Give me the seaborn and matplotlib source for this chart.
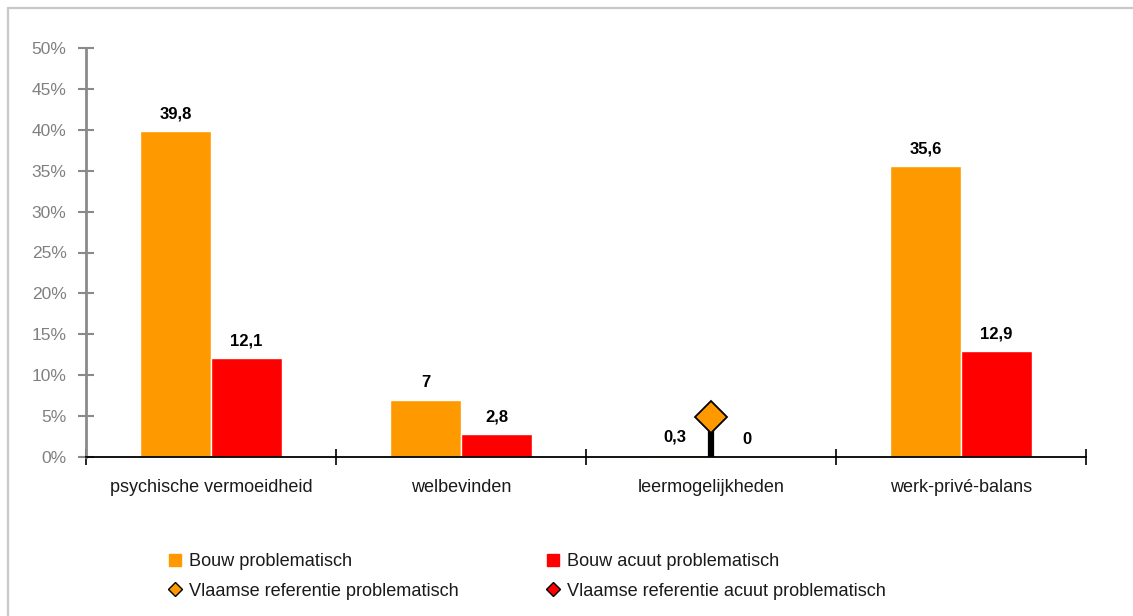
import numpy as np
import pandas as pd
import matplotlib
matplotlib.use("Agg")
import matplotlib.pyplot as plt
import seaborn as sns
from matplotlib.lines import Line2D

# ---------------- data ----------------
categories = ["psychische vermoeidheid", "welbevinden", "leermogelijkheden", "werk-privé-balans"]
bouw_problematisch = [39.8, 7.0, 0.3, 35.6]
bouw_acuut = [12.1, 2.8, 0.0, 12.9]
ref_problematisch = [np.nan, np.nan, 4.9, np.nan]
ref_acuut = [np.nan, np.nan, np.nan, np.nan]
series_names = ["Bouw problematisch", "Bouw acuut problematisch"]
ref_names = ["Vlaamse referentie problematisch", "Vlaamse referentie acuut problematisch"]
y_ticks = [0, 5, 10, 15, 20, 25, 30, 35, 40, 45, 50]

ORANGE = "#FF9900"
RED = "#FF0000"

sns.set_style("white")
plt.rcParams["font.family"] = ["Liberation Sans", "DejaVu Sans"]

W, H = 1133, 616
fig = plt.figure(figsize=(W / 100, H / 100), dpi=100)
ax = fig.add_axes([86 / W, 1 - 457 / H, 1000 / W, 409 / H])

df = pd.DataFrame({
    "categorie": categories * 2,
    "waarde": bouw_problematisch + bouw_acuut,
    "reeks": [series_names[0]] * len(categories) + [series_names[1]] * len(categories),
})

sns.barplot(data=df, x="categorie", y="waarde", hue="reeks", order=categories,
            hue_order=series_names, palette=[ORANGE, RED], width=0.57, gap=0,
            errorbar=None, legend=False, saturation=1, ax=ax, zorder=2)

def fmt(v):
    return f"{v:g}".replace(".", ",")

for cont, vals in zip(ax.containers, [bouw_problematisch, bouw_acuut]):
    ax.bar_label(cont, labels=[fmt(v) for v in vals], padding=7,
                 fontsize=12, fontweight="bold", color="black")

# reference markers with drop lines
xpos = np.arange(len(categories))
ref_p = np.array(ref_problematisch, dtype=float)
ref_a = np.array(ref_acuut, dtype=float)
mask = ~np.isnan(ref_p)
ax.vlines(xpos[mask], 0, ref_p[mask], colors="black", linewidth=4.5, zorder=3)
ax.plot(xpos[mask], ref_p[mask], linestyle="none", marker="D", markersize=16.5,
        markerfacecolor=ORANGE, markeredgecolor="black", markeredgewidth=1.3, zorder=4)
mask_a = ~np.isnan(ref_a)
if mask_a.any():
    ax.plot(xpos[mask_a], ref_a[mask_a], linestyle="none", marker="D", markersize=16.5,
            markerfacecolor=RED, markeredgecolor="black", markeredgewidth=1.3, zorder=4)

# axes styling
ax.set_xlim(-0.5, len(categories) - 0.5)
ax.set_ylim(0, 50)
ax.set_xlabel("")
ax.set_ylabel("")
ax.set_yticks(y_ticks)
ax.set_yticklabels([f"{t}%" for t in y_ticks])
ax.tick_params(axis="y", direction="inout", length=12, width=1.5, color="#8a8a8a",
               labelcolor="#808080", labelsize=12.5, pad=8, left=True)

ax.set_xticks(np.arange(len(categories) + 1) - 0.5)
ax.set_xticklabels([])
ax.tick_params(axis="x", which="major", direction="inout", length=12, width=1.2,
               color="black", bottom=True)
ax.set_xticks(xpos, minor=True)
ax.set_xticklabels(categories, minor=True)
ax.tick_params(axis="x", which="minor", length=0, pad=16, labelsize=13, labelcolor="#1a1a1a")

for s in ["top", "right"]:
    ax.spines[s].set_visible(False)
ax.spines["left"].set_color("#8a8a8a")
ax.spines["left"].set_linewidth(2)
ax.spines["bottom"].set_color("black")
ax.spines["bottom"].set_linewidth(1.3)
ax.set_facecolor("white")

# legend
handles = [
    Line2D([], [], linestyle="none", marker="s", markersize=8, markerfacecolor=ORANGE,
           markeredgecolor=ORANGE),
    Line2D([], [], linestyle="none", marker="D", markersize=6.8, markerfacecolor=ORANGE,
           markeredgecolor="black", markeredgewidth=1.0),
    Line2D([], [], linestyle="none", marker="s", markersize=8, markerfacecolor=RED,
           markeredgecolor=RED),
    Line2D([], [], linestyle="none", marker="D", markersize=6.8, markerfacecolor=RED,
           markeredgecolor="black", markeredgewidth=1.0),
]
labels = [series_names[0], ref_names[0], series_names[1], ref_names[1]]
fig.legend(handles, labels, ncol=2, loc="upper left",
           bbox_to_anchor=(168 / W, 1 - 553 / H), bbox_transform=fig.transFigure,
           frameon=False, fontsize=13.1, handlelength=0.8, handletextpad=0.35,
           columnspacing=4.8, labelspacing=0.7, borderpad=0, borderaxespad=0,
           labelcolor="#1a1a1a")

# outer frame lines (top & left)
fig.add_artist(Line2D([8 / W, 1], [1 - 8 / H, 1 - 8 / H], transform=fig.transFigure,
                      color="#c8c8c8", linewidth=1.6))
fig.add_artist(Line2D([8 / W, 8 / W], [0, 1 - 8 / H], transform=fig.transFigure,
                      color="#c8c8c8", linewidth=1.6))

fig.savefig("out.png", dpi=100, facecolor="white")
